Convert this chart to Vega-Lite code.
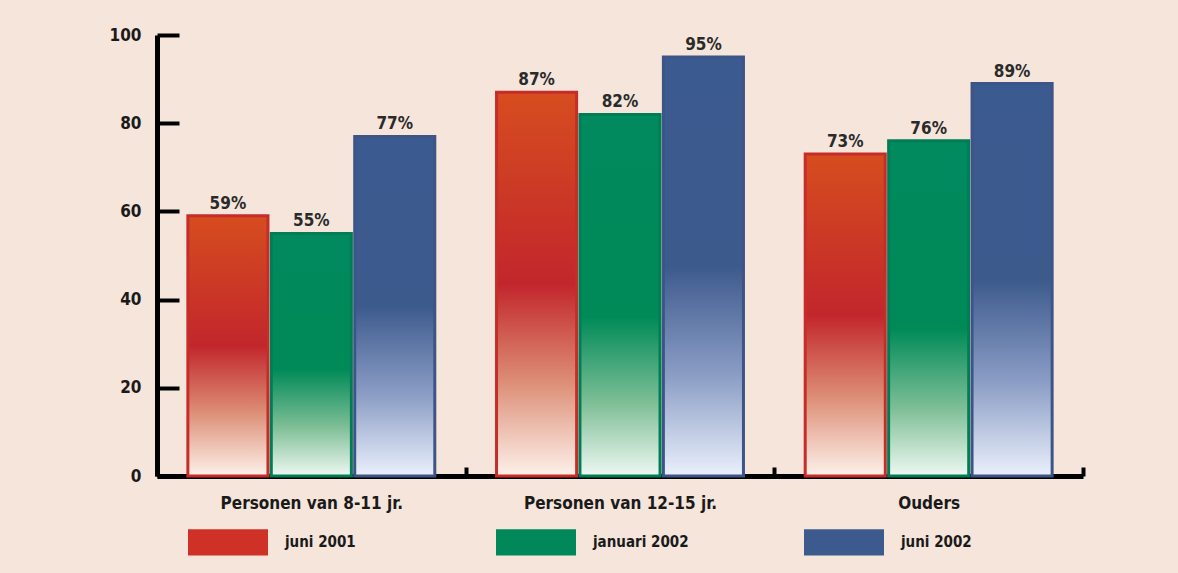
{
  "$schema": "https://vega.github.io/schema/vega-lite/v6.json",
  "width": 926,
  "height": 441,
  "autosize": {"type": "none"},
  "padding": {"left": 157, "top": 35, "right": 95, "bottom": 97},
  "background": "#f5e5db",
  "config": {
    "view": {"stroke": null},
    "font": "DejaVu Sans Condensed, Liberation Sans Narrow, sans-serif"
  },
  "data": {
    "values": [
      {"groep": "Personen van 8-11 jr.", "meting": "juni 2001", "waarde": 59, "label": "59%"},
      {"groep": "Personen van 8-11 jr.", "meting": "januari 2002", "waarde": 55, "label": "55%"},
      {"groep": "Personen van 8-11 jr.", "meting": "juni 2002", "waarde": 77, "label": "77%"},
      {"groep": "Personen van 12-15 jr.", "meting": "juni 2001", "waarde": 87, "label": "87%"},
      {"groep": "Personen van 12-15 jr.", "meting": "januari 2002", "waarde": 82, "label": "82%"},
      {"groep": "Personen van 12-15 jr.", "meting": "juni 2002", "waarde": 95, "label": "95%"},
      {"groep": "Ouders", "meting": "juni 2001", "waarde": 73, "label": "73%"},
      {"groep": "Ouders", "meting": "januari 2002", "waarde": 76, "label": "76%"},
      {"groep": "Ouders", "meting": "juni 2002", "waarde": 89, "label": "89%"}
    ]
  },
  "encoding": {
    "x": {
      "field": "groep",
      "type": "nominal",
      "sort": ["Personen van 8-11 jr.", "Personen van 12-15 jr.", "Ouders"],
      "scale": {"paddingInner": 0, "paddingOuter": 0},
      "axis": {
        "title": null,
        "labelAngle": 0,
        "labelFontSize": 17,
        "labelFontWeight": "bold",
        "labelColor": "#1a1a1a",
        "labelPadding": 28,
        "labelLimit": 300,
        "domainColor": "#000000",
        "domainWidth": 5,
        "tickBand": "extent",
        "tickColor": "#000000",
        "tickWidth": 4,
        "tickSize": -9
      }
    },
    "xOffset": {
      "field": "meting",
      "type": "nominal",
      "sort": ["juni 2001", "januari 2002", "juni 2002"],
      "scale": {"paddingInner": 0.04, "paddingOuter": 0.37}
    },
    "y": {
      "field": "waarde",
      "type": "quantitative",
      "scale": {"domain": [0, 100], "nice": false},
      "axis": {
        "title": null,
        "values": [0, 20, 40, 60, 80, 100],
        "grid": false,
        "labelFontSize": 17,
        "labelFontWeight": "bold",
        "labelColor": "#1a1a1a",
        "labelPadding": 38,
        "domainColor": "#000000",
        "domainWidth": 5,
        "tickColor": "#000000",
        "tickWidth": 4,
        "tickSize": -22
      }
    }
  },
  "layer": [
    {
      "mark": {"type": "bar", "opacity": 0},
      "encoding": {
        "color": {
          "field": "meting",
          "type": "nominal",
          "sort": ["juni 2001", "januari 2002", "juni 2002"],
          "scale": {"domain": ["juni 2001", "januari 2002", "juni 2002"], "range": ["#cf3126", "#00875a", "#3c5a8e"]},
          "legend": {
            "title": null,
            "orient": "none",
            "legendX": 31,
            "legendY": 467,
            "direction": "horizontal",
            "columns": 3,
            "gridAlign": "all",
            "columnPadding": 115,
            "padding": 0,
            "symbolType": "M-1,-0.33H1V0.33H-1Z",
            "symbolSize": 6400,
            "symbolOpacity": 1,
            "symbolStrokeWidth": 0,
            "labelOffset": 17,
            "labelFontSize": 15,
            "labelFontWeight": "bold",
            "labelColor": "#1a1a1a",
            "labelLimit": 200
          }
        }
      }
    },
    {
      "transform": [{"filter": "datum.meting === 'juni 2001'"}],
      "mark": {
        "type": "bar",
        "strokeWidth": 3,
        "fill": {
          "gradient": "linear", "x1": 0, "y1": 0, "x2": 0, "y2": 1,
          "stops": [
            {"offset": 0, "color": "#d64d1f"},
            {"offset": 0.5, "color": "#c2262c"},
            {"offset": 0.75, "color": "#dc8c74"},
            {"offset": 1, "color": "#fdf1ea"}
          ]
        }
      },
      "encoding": {
        "stroke": {
          "field": "meting",
          "type": "nominal",
          "scale": {"domain": ["juni 2001", "januari 2002", "juni 2002"], "range": ["#c62d2a", "#007d55", "#3e5487"]},
          "legend": null
        }
      }
    },
    {
      "transform": [{"filter": "datum.meting === 'januari 2002'"}],
      "mark": {
        "type": "bar",
        "strokeWidth": 3,
        "fill": {
          "gradient": "linear", "x1": 0, "y1": 0, "x2": 0, "y2": 1,
          "stops": [
            {"offset": 0, "color": "#008a5e"},
            {"offset": 0.56, "color": "#008a58"},
            {"offset": 0.8, "color": "#7fbf97"},
            {"offset": 1, "color": "#eef8f2"}
          ]
        }
      },
      "encoding": {
        "stroke": {"field": "meting", "type": "nominal", "legend": null}
      }
    },
    {
      "transform": [{"filter": "datum.meting === 'juni 2002'"}],
      "mark": {
        "type": "bar",
        "strokeWidth": 3,
        "fill": {
          "gradient": "linear", "x1": 0, "y1": 0, "x2": 0, "y2": 1,
          "stops": [
            {"offset": 0, "color": "#3b5a8f"},
            {"offset": 0.5, "color": "#3d5a8d"},
            {"offset": 0.76, "color": "#8b9dc5"},
            {"offset": 1, "color": "#eaf0fc"}
          ]
        }
      },
      "encoding": {
        "stroke": {"field": "meting", "type": "nominal", "legend": null}
      }
    },
    {
      "mark": {
        "type": "text",
        "baseline": "bottom",
        "dy": -3,
        "fontSize": 17,
        "fontWeight": "bold",
        "color": "#2a2a2a"
      },
      "encoding": {
        "text": {"field": "label"}
      }
    }
  ]
}
